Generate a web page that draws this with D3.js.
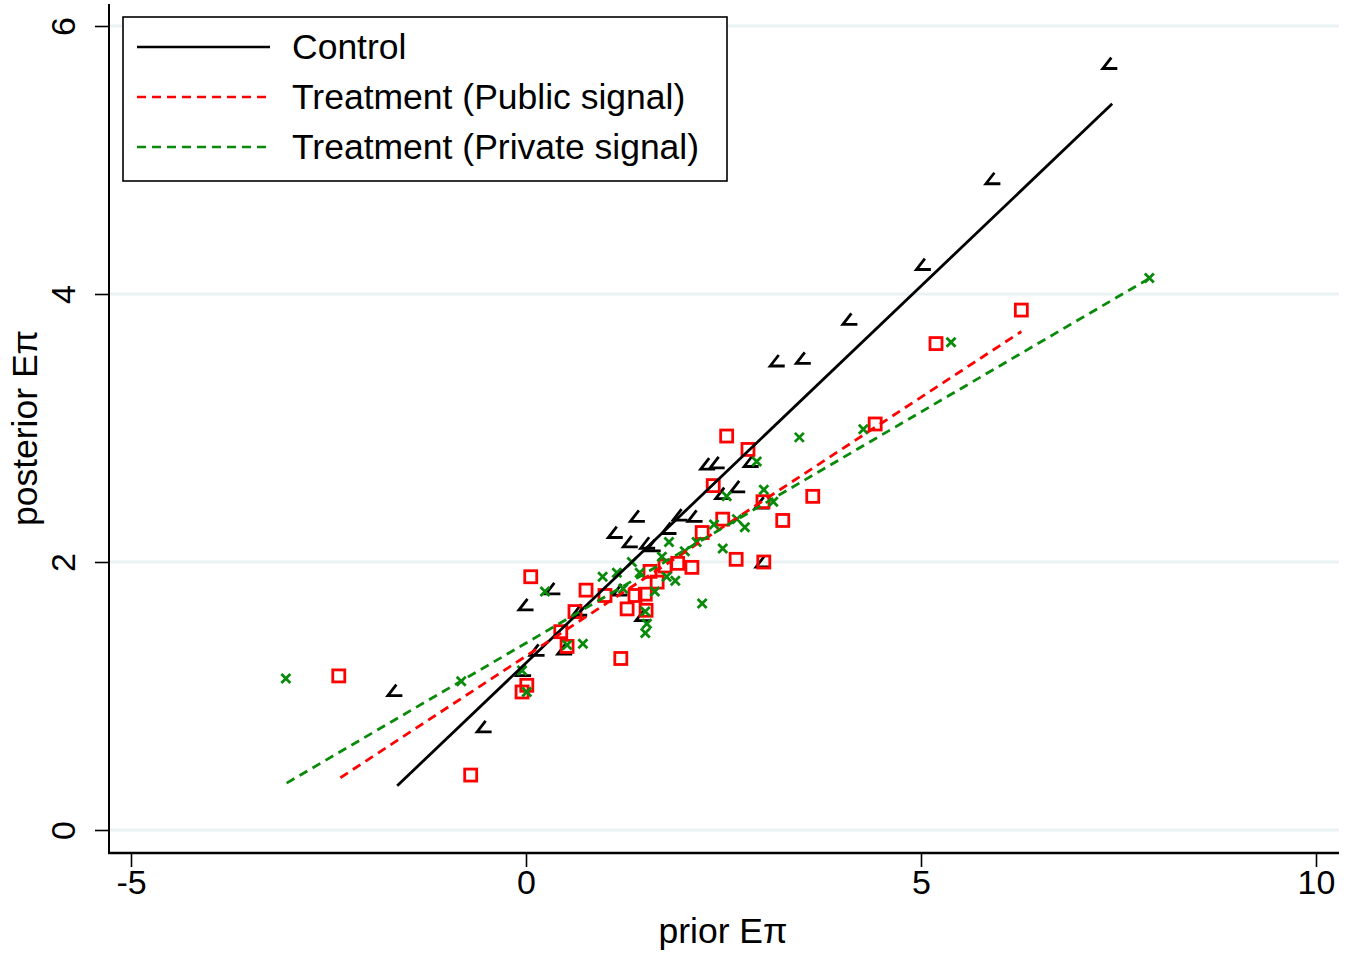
<!DOCTYPE html>
<html>
<head>
<meta charset="utf-8">
<script src="https://cdn.jsdelivr.net/npm/d3@7"></script>
<style>
  html, body { margin: 0; padding: 0; background: #fff; }
  svg { display: block; }
  text { font-family: "Liberation Sans", Arial, Helvetica, sans-serif; fill: #000; }
</style>
</head>
<body>
<svg id="chart" width="1351" height="953"></svg>
<script>
// ---- data ----
const xTicks = [-5, 0, 5, 10];
const yTicks = [0, 2, 4, 6];
const xLabel = "prior Eπ";
const yLabel = "posterior Eπ";
const seriesNames = ["Control", "Treatment (Public signal)", "Treatment (Private signal)"];

const controlX = [7.39, 5.91, 5.03, 4.10, 3.18, 3.51, 2.30, 2.42, 2.85, 2.49, 2.68, 2.99, 1.41, 1.95, 2.14, 1.81,
                  1.13, 1.32, 1.54, 1.61, 3.00, 1.19, 1.48, 0.68, 0.34, 0.00, 0.14, 0.49, -0.03, -1.66, -0.53];
const controlY = [5.72, 4.86, 4.22, 3.81, 3.50, 3.52, 2.73, 2.74, 2.75, 2.51, 2.56, 2.44, 2.34, 2.35, 2.34, 2.25,
                  2.22, 2.15, 2.14, 2.12, 2.00, 1.79, 1.60, 1.64, 1.80, 1.68, 1.34, 1.35, 1.19, 1.04, 0.77];

const publicX = [6.27, 5.19, 4.42, 2.54, 2.81, 2.37, 3.00, 3.63, 2.49, 3.25, 2.23, 2.66, 3.01, 2.10, 1.92, 1.76, 1.57,
                 1.66, 1.38, 1.51, 1.00, 0.76, 1.28, 1.52, 0.62, 0.44, 0.52, 0.06, 0.01, -0.05, 1.20, -2.37, -0.70];
const publicY = [3.88, 3.63, 3.03, 2.94, 2.84, 2.57, 2.45, 2.49, 2.32, 2.31, 2.22, 2.02, 2.00, 1.96, 1.99, 1.97, 1.93,
                 1.85, 1.75, 1.76, 1.75, 1.79, 1.65, 1.64, 1.63, 1.48, 1.37, 1.89, 1.08, 1.03, 1.28, 1.15, 0.41];

const privateX = [7.89, 5.38, 4.27, 3.46, 2.92, 2.54, 3.01, 3.13, 2.67, 2.77, 2.38, 2.16, 2.49, 2.01, 1.81, 1.72, 1.34,
                  0.97, 1.15, 1.44, 1.78, 1.89, 1.63, 1.23, 1.51, 1.53, 1.51, 2.23, 0.72, 0.52, 0.24, -0.05, 0.01, -0.82, -3.04];
const privateY = [4.12, 3.64, 2.99, 2.93, 2.75, 2.49, 2.54, 2.45, 2.32, 2.26, 2.28, 2.15, 2.10, 2.08, 2.15, 2.04, 2.00,
                  1.89, 1.92, 1.92, 1.89, 1.86, 1.78, 1.80, 1.63, 1.54, 1.47, 1.69, 1.39, 1.38, 1.78, 1.19, 1.03, 1.11, 1.13];

// fitted lines: [x, y] at both ends
const controlFit = [[-1.63, 0.33], [7.42, 5.42]];
const publicFit  = [[-2.35, 0.39], [6.27, 3.72]];
const privateFit = [[-3.03, 0.35], [7.90, 4.12]];

// ---- drawing ----
const svg = d3.select("#chart");
const x = d3.scaleLinear().domain([-5, 10]).range([131, 1316]);
const y = d3.scaleLinear().domain([0, 6]).range([830, 26]);

const plotLeft = 109, plotRight = 1339, plotTop = 4, plotBottom = 853;
const RED = "#ff0000", GREEN = "#0a8a0a", BLACK = "#000";
const FONT = "'Liberation Sans', Arial, sans-serif";

// gridlines
svg.append("g").selectAll("line").data(yTicks).join("line")
  .attr("x1", plotLeft + 1).attr("x2", plotRight)
  .attr("y1", d => y(d)).attr("y2", d => y(d))
  .attr("stroke", "#eaf2f3").attr("stroke-width", 3);

// axes
const xAxis = d3.axisBottom(x).tickValues(xTicks).tickSize(14).tickPadding(3).tickFormat(d3.format("d"));
const gx = svg.append("g").attr("transform", `translate(0,${plotBottom})`).call(xAxis);
gx.select(".domain").remove();
gx.selectAll(".tick line").attr("stroke", BLACK).attr("stroke-width", 1.6);
gx.selectAll(".tick text").attr("font-size", 34).attr("fill", BLACK)
  .attr("font-family", FONT)
  .text(d => d < 0 ? "-" + Math.abs(d) : d);

const yAxis = d3.axisLeft(y).tickValues(yTicks).tickSize(14).tickPadding(0).tickFormat(d3.format("d"));
const gy = svg.append("g").attr("transform", `translate(${plotLeft},0)`).call(yAxis);
gy.select(".domain").remove();
gy.selectAll(".tick line").attr("stroke", BLACK).attr("stroke-width", 1.6);
gy.selectAll(".tick text").attr("font-size", 34).attr("fill", BLACK)
  .attr("font-family", FONT)
  .attr("x", 0).attr("dy", 0)
  .attr("text-anchor", "middle")
  .attr("transform", "translate(-46,0) rotate(-90)")
  .attr("y", 12);

// axis lines
svg.append("line").attr("x1", plotLeft).attr("x2", plotLeft).attr("y1", plotTop).attr("y2", plotBottom + 1)
  .attr("stroke", BLACK).attr("stroke-width", 2);
svg.append("line").attr("x1", plotLeft - 1).attr("x2", plotRight).attr("y1", plotBottom).attr("y2", plotBottom)
  .attr("stroke", BLACK).attr("stroke-width", 2.5);

// axis titles
svg.append("text").attr("x", 723).attr("y", 943).attr("text-anchor", "middle")
  .attr("font-size", 35.5).text(xLabel);
svg.append("text").attr("transform", "translate(37,428) rotate(-90)").attr("text-anchor", "middle")
  .attr("font-size", 35.5).text(yLabel);

// markers
const gPts = svg.append("g");
// control: angle marker
gPts.append("g").selectAll("path").data(controlX.map((v, i) => [v, controlY[i]])).join("path")
  .attr("transform", d => `translate(${x(d[0])},${y(d[1])})`)
  .attr("d", "M1.5,-6 L-7,5 L7.5,5")
  .attr("fill", "none").attr("stroke", BLACK).attr("stroke-width", 2.8);
// public: hollow squares
gPts.append("g").selectAll("rect").data(publicX.map((v, i) => [v, publicY[i]])).join("rect")
  .attr("x", d => x(d[0]) - 6).attr("y", d => y(d[1]) - 6)
  .attr("width", 12).attr("height", 12)
  .attr("fill", "none").attr("stroke", RED).attr("stroke-width", 2.8);
// private: x marks
gPts.append("g").selectAll("path").data(privateX.map((v, i) => [v, privateY[i]])).join("path")
  .attr("transform", d => `translate(${x(d[0])},${y(d[1])})`)
  .attr("d", "M-4.5,-4.5 L4.5,4.5 M-4.5,4.5 L4.5,-4.5")
  .attr("fill", "none").attr("stroke", GREEN).attr("stroke-width", 2.8);

// fitted lines
const line = d3.line().x(d => x(d[0])).y(d => y(d[1]));
svg.append("path").attr("d", line(controlFit)).attr("fill", "none")
  .attr("stroke", BLACK).attr("stroke-width", 2.8);
svg.append("path").attr("d", line(publicFit)).attr("fill", "none")
  .attr("stroke", RED).attr("stroke-width", 2.8).attr("stroke-dasharray", "9,6");
svg.append("path").attr("d", line(privateFit)).attr("fill", "none")
  .attr("stroke", GREEN).attr("stroke-width", 2.8).attr("stroke-dasharray", "9,6");

// legend
const lg = svg.append("g");
lg.append("rect").attr("x", 123).attr("y", 17).attr("width", 604).attr("height", 164)
  .attr("fill", "#fff").attr("stroke", BLACK).attr("stroke-width", 1.6);
const legendItems = [
  { name: seriesNames[0], color: BLACK, dash: null },
  { name: seriesNames[1], color: RED, dash: "9,6" },
  { name: seriesNames[2], color: GREEN, dash: "9,6" }
];
legendItems.forEach((it, i) => {
  const cy = 47 + i * 50;
  lg.append("line").attr("x1", 137).attr("x2", 270).attr("y1", cy).attr("y2", cy)
    .attr("stroke", it.color).attr("stroke-width", 2.6)
    .attr("stroke-dasharray", it.dash);
  lg.append("text").attr("x", 292).attr("y", cy + 12).attr("font-size", 35.5).text(it.name);
});
</script>
</body>
</html>
